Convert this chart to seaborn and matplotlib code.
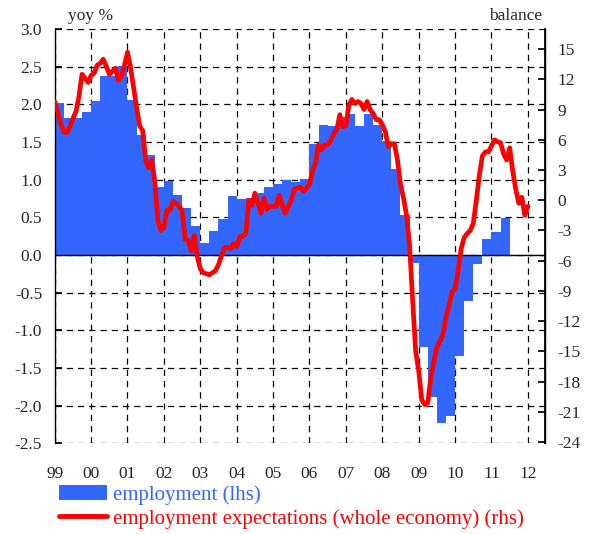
import matplotlib
matplotlib.use("Agg")
import matplotlib.pyplot as plt
import numpy as np
import pandas as pd
import seaborn as sns
from matplotlib.lines import Line2D
from matplotlib.patches import Patch
from matplotlib.ticker import FormatStrFormatter

BLUE = "#3366FF"
RED = "#FF0000"

# quarterly employment growth, yoy %, 1999Q1 .. 2011Q2 (lhs)
employment = [
    2.02, 1.82, 1.82, 1.90,
    2.04, 2.38, 2.38, 2.51,
    2.06, 1.59, 1.33, 0.91,
    0.98, 0.80, 0.63, 0.38,
    0.16, 0.32, 0.48, 0.78,
    0.74, 0.76, 0.82, 0.90,
    0.94, 1.00, 0.97, 1.01,
    1.48, 1.73, 1.71, 1.83,
    1.87, 1.71, 1.87, 1.73,
    1.51, 1.14, 0.53, -0.10,
    -1.22, -1.88, -2.23, -2.13,
    -1.34, -0.61, -0.12, 0.22,
    0.30, 0.49,
]

# monthly employment expectations balance, Jan 1999 .. Jan 2012 (rhs)
expectations = [
    9.8, 8.8, 7.6, 6.8, 6.7, 7.3, 8.1, 8.8, 10.3, 12.5, 12.1, 11.7,
    12.4, 12.6, 13.4, 13.6, 14.0, 13.3, 12.5, 12.8, 13.1, 11.9, 12.3, 13.4,
    14.7, 13.2, 11.2, 9.2, 7.4, 6.9, 4.0, 3.2, 4.0, 1.9, -2.0, -3.0,
    -2.7, -1.0, -1.0, -0.1, -0.3, -0.6, -1.0, -3.9, -4.0, -5.0, -3.5, -5.6,
    -6.8, -7.2, -7.3, -7.4, -7.2, -7.0, -6.4, -5.5, -4.7, -4.7, -4.8, -4.3,
    -4.6, -3.6, -3.6, -3.3, 0.0, -0.5, 0.7, -0.2, -1.3, 0.2, -0.9, -0.6,
    -0.6, -0.6, 0.5, -0.5, -1.3, -0.6, 0.0, 1.1, 1.2, 1.3, 0.9, 1.2,
    1.6, 2.9, 3.7, 5.5, 5.0, 5.5, 5.5, 5.9, 6.6, 7.0, 8.5, 7.3,
    7.4, 9.5, 10.0, 9.6, 9.8, 9.6, 9.0, 9.8, 9.0, 8.6, 8.0, 8.0,
    7.5, 6.8, 5.3, 5.6, 5.6, 4.0, 1.6, 0.2, -1.5, -4.5, -9.9, -15.0,
    -16.9, -19.8, -20.3, -20.1, -17.6, -16.0, -14.6, -14.0, -13.3, -11.6, -10.5, -9.1,
    -8.8, -7.0, -4.8, -3.7, -3.3, -3.0, -2.3, 0.0, 2.5, 4.4, 4.8, 4.8,
    5.4, 6.0, 5.8, 5.7, 4.6, 4.0, 5.2, 2.9, 1.1, -0.3, 0.3, -1.5,
    -0.6,
]

year_ticks = list(range(1999, 2013))
year_labels = [f"{y % 100:02d}" for y in year_ticks]
lhs_ticks = [-2.5, -2.0, -1.5, -1.0, -0.5, 0.0, 0.5, 1.0, 1.5, 2.0, 2.5, 3.0]
rhs_ticks = list(range(-24, 16, 3))


def main() -> None:
    sns.set_theme(style="white")
    plt.rcParams["font.family"] = ["Liberation Serif", "DejaVu Serif"]
    plt.rcParams["axes.unicode_minus"] = False

    quarters = pd.DataFrame(
        {"t": 1999 + np.arange(len(employment)) * 0.25 + 0.125, "employment": employment}
    )
    months = pd.DataFrame(
        {"t": 1999 + np.arange(len(expectations)) / 12, "expectations": expectations}
    )

    fig = plt.figure(figsize=(5.97, 5.34), dpi=100)
    ax = fig.add_axes([0.0916, 0.1695, 0.8213, 0.7762])

    sns.barplot(
        data=quarters, x="t", y="employment", native_scale=True, width=1.0,
        color=BLUE, saturation=1, linewidth=0, errorbar=None, ax=ax,
    )
    ax.set_xlim(1999, 2012.47)
    ax.set_ylim(-2.5, 3.0)
    ax.set_xticks(year_ticks)
    ax.set_xticklabels(year_labels)
    ax.set_yticks(lhs_ticks)
    ax.yaxis.set_major_formatter(FormatStrFormatter("%.1f"))
    ax.set_xlabel("")
    ax.set_ylabel("")
    ax.grid(True, color="black", linestyle=(0, (5, 4)), linewidth=0.9)
    ax.set_axisbelow(True)
    ax.axhline(0, color="black", linewidth=1.0, zorder=3)
    for side in ["top", "bottom"]:
        ax.spines[side].set_visible(False)
    for side in ["left", "right"]:
        ax.spines[side].set_color("black")
        ax.spines[side].set_linewidth(1.0)
    ax.tick_params(axis="y", direction="in", length=5, color="black", labelsize=12.5, pad=9)
    ax.tick_params(axis="x", length=0, labelsize=12.5, pad=16)

    ax2 = ax.twinx()
    sns.lineplot(data=months, x="t", y="expectations", color=RED, linewidth=3.4, ax=ax2)
    ax2.set_ylim(-24.15, 17.0)
    ax2.set_yticks(rhs_ticks)
    ax2.set_xlabel("")
    ax2.set_ylabel("")
    ax2.grid(False)
    for side in ["top", "bottom", "left"]:
        ax2.spines[side].set_visible(False)
    ax2.spines["right"].set_color("black")
    ax2.tick_params(axis="y", direction="in", length=5, color="black", labelsize=12.5, pad=9)

    fig.text(68 / 597, 1 - 16 / 534, "yoy %", ha="left", va="center", fontsize=12.5)
    fig.text(542 / 597, 1 - 16 / 534, "balance", ha="right", va="center", fontsize=12.5)

    handles = [
        Patch(facecolor=BLUE, edgecolor="none", label="employment (lhs)"),
        Line2D([0], [0], color=RED, linewidth=3.5, label="employment expectations (whole economy) (rhs)"),
    ]
    leg = fig.legend(
        handles=handles, loc="upper left", bbox_to_anchor=(59 / 597, 1 - 485 / 534),
        frameon=False, fontsize=15, handlelength=2.3, handletextpad=0.3,
        borderpad=0, borderaxespad=0, labelspacing=0.2,
    )
    for text, color in zip(leg.get_texts(), [BLUE, RED]):
        text.set_color(color)

    fig.savefig("out.png", dpi=100)
    plt.close(fig)


if __name__ == "__main__":
    main()
